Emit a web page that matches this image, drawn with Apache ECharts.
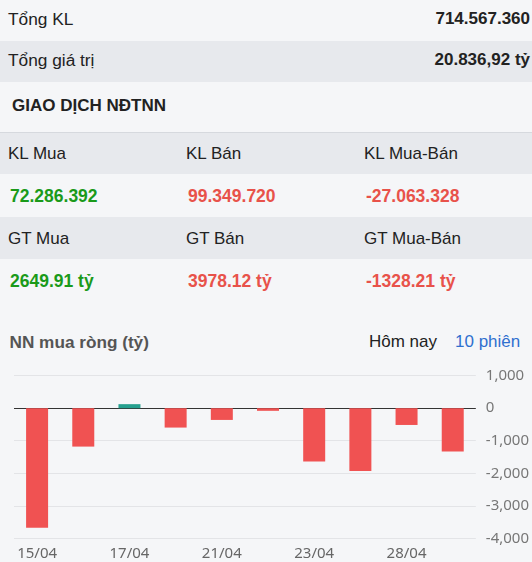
<!DOCTYPE html>
<html>
<head>
<meta charset="utf-8">
<script src="https://cdn.jsdelivr.net/npm/echarts@6/dist/echarts.min.js"></script>
<style>
  html, body { margin:0; padding:0; }
  body { width:532px; height:562px; overflow:hidden; background:#f5f6f8; position:relative;
         font-family:"Liberation Sans", Arial, sans-serif; color:#222; }
  .t { position:absolute; white-space:nowrap; line-height:20px; font-size:17px; }
  .b { font-weight:bold; }
  .band { position:absolute; left:0; width:532px; background:#e7e9ed; }
  #chart { position:absolute; left:0; top:355px; width:532px; height:207px; }
</style>
</head>
<body>
<div class="band" style="top:41px;height:41px;"></div>
<div class="band" style="top:132px;height:1px;background:#d6d9de;"></div>
<div class="band" style="top:133px;height:41px;"></div>
<div class="band" style="top:217px;height:42px;"></div>
<div id="texts"></div>
<div id="chart"></div>
<script>
// ---- summary data ----
const totalLabels = ['Tổng KL', 'Tổng giá trị'];
const totalValues = ['714.567.360', '20.836,92 tỷ'];
const sectionTitle = 'GIAO DỊCH NĐTNN';
const klLabels = ['KL Mua', 'KL Bán', 'KL Mua-Bán'];
const klValues = ['72.286.392', '99.349.720', '-27.063.328'];
const gtLabels = ['GT Mua', 'GT Bán', 'GT Mua-Bán'];
const gtValues = ['2649.91 tỷ', '3978.12 tỷ', '-1328.21 tỷ'];
const chartTitle = 'NN mua ròng (tỷ)';
const tabLabels = ['Hôm nay', '10 phiên'];

// ---- chart data ----
const dates = ['15/04', '16/04', '17/04', '18/04', '21/04', '22/04', '23/04', '24/04', '28/04', '29/04'];
const netBuy = [-3675, -1180, 125, -595, -360, -80, -1640, -1930, -515, -1328.21];
const yTicks = [-4000, -3000, -2000, -1000, 0, 1000];

// ---- build text ----
const box = document.getElementById('texts');
function addText(txt, left, centerY, opts) {
  const d = document.createElement('div');
  d.className = 't' + (opts && opts.bold ? ' b' : '');
  d.textContent = txt;
  d.style.top = (centerY - 10) + 'px';
  if (opts && opts.right !== undefined) d.style.right = opts.right + 'px';
  else d.style.left = left + 'px';
  if (opts && opts.color) d.style.color = opts.color;
  if (opts && opts.size) d.style.fontSize = opts.size + 'px';
  box.appendChild(d);
}
const rowCenters = [18.5, 60];
totalLabels.forEach((l, i) => {
  addText(l, 8, rowCenters[i], { size: 17.3 });
  addText(totalValues[i], 0, rowCenters[i], { bold: true, right: 2 });
});
addText(sectionTitle, 12, 106, { bold: true, size: 17 });
const colX = [8, 186, 364];
const green = '#1a9a1a', red = '#e8524a';
function valColor(i) { return i === 0 ? green : red; }
klLabels.forEach((l, i) => addText(l, colX[i], 153.5));
klValues.forEach((v, i) => addText(v, colX[i] + 2, 195.5, { bold: true, color: valColor(i), size: 17.5 }));
gtLabels.forEach((l, i) => addText(l, colX[i], 238.5));
gtValues.forEach((v, i) => addText(v, colX[i] + 2, 280.5, { bold: true, color: valColor(i), size: 17.5 }));
addText(chartTitle, 9.5, 341.5, { bold: true, size: 17.2, color: '#555' });
addText(tabLabels[0], 369, 341.5, { color: '#222' });
addText(tabLabels[1], 455, 341.5, { color: '#2f6fcf' });

// ---- chart ----
const chart = echarts.init(document.getElementById('chart'), null, { renderer: 'canvas' });
const splitColors = yTicks.map(v => v === 0 ? '#333333' : '#e3e4e7');
chart.setOption({
  animation: false,
  backgroundColor: 'transparent',
  grid: { left: 14, right: 54, top: 20.7, bottom: 23.7, containLabel: false },
  xAxis: {
    type: 'category',
    data: dates,
    boundaryGap: true,
    axisLine: { show: false },
    axisTick: { show: false },
    axisLabel: { interval: 1, color: '#666', fontSize: 15, fontFamily: 'Noto Sans', margin: 8 }
  },
  yAxis: {
    type: 'value',
    position: 'right',
    min: -4000, max: 1000, interval: 1000,
    axisLine: { show: false },
    axisTick: { show: false },
    axisLabel: {
      color: '#777', fontSize: 15, fontFamily: 'Noto Sans', margin: 10,
      formatter: v => v.toLocaleString('en-US')
    },
    splitLine: { show: true, lineStyle: { color: splitColors, width: 1 } }
  },
  series: [{
    type: 'bar',
    data: netBuy,
    barWidth: 22,
    itemStyle: { color: p => p.value >= 0 ? '#26a08f' : '#f05252' }
  }]
});
</script>
</body>
</html>
